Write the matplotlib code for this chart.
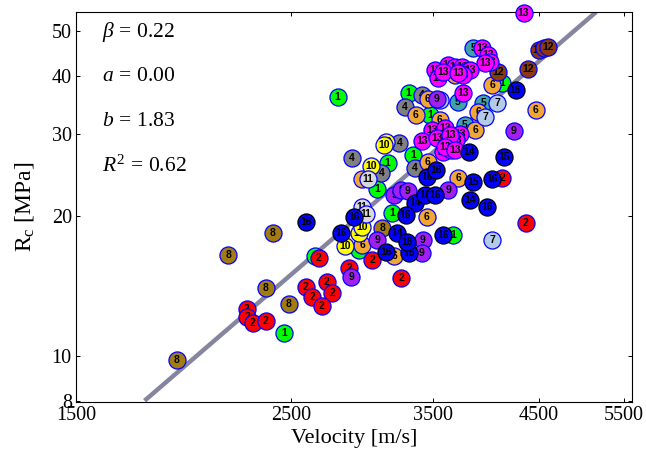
import matplotlib
matplotlib.use('Agg')
import matplotlib.pyplot as plt
from matplotlib.ticker import NullLocator

# ── data (Velocity [m/s], Rc [MPa]) per sample group ──
v01 = [2790, 2460, 2644, 3303, 3141, 3066, 3335, 3473, 3178, 2936, 3669, 4124]
r01 = [36.0, 11.2, 16.4, 36.8, 26.0, 22.9, 27.0, 33.0, 20.3, 16.9, 18.2, 38.6]
v02 = [2669, 2588, 2626, 2721, 2754, 2688, 2248, 2253, 2281, 2352, 2868, 3030, 3247, 4124, 4359]
r02 = [16.25, 14.07, 13.4, 14.42, 13.66, 12.8, 12.62, 12.13, 11.78, 11.9, 15.47, 16.09, 14.72, 24.1, 19.3]
v04 = [2888, 3095, 3231, 3271, 3407, 3351]
r04 = [26.7, 24.75, 28.7, 34.3, 36.4, 25.4]
v05 = [3942, 3713, 3849, 3775]
r05 = [35.0, 35.2, 46.0, 31.4]
v06 = [4028, 4464, 3358, 3456, 3456, 3713, 3449, 2958, 3193, 2958, 3895, 3867, 3556, 3687]
r06 = [38.2, 33.8, 33.0, 35.7, 26.1, 24.1, 19.9, 17.3, 16.4, 24.0, 33.5, 30.6, 32.2, 40.2]
v07 = [4075, 3961, 4028, 3556]
r07 = [35.0, 32.7, 17.77, 35.5]
v08 = [1905, 2153, 2392, 2352, 2486, 3102]
r08 = [9.8, 16.5, 18.4, 14.0, 12.9, 18.85]
v09 = [3531, 4236, 3193, 3247, 3295, 3626, 3066, 3415, 3407, 2881]
r09 = [35.7, 30.45, 22.2, 22.75, 22.6, 22.75, 17.77, 17.77, 16.65, 14.8]
v10 = [3133, 3118, 3022, 2936, 2958, 2840]
r10 = [28.8, 28.4, 25.6, 18.4, 18.95, 17.2]
v11 = [3001, 2958, 2987]
r11 = [24.0, 20.9, 20.2]
v12 = [4495, 4550, 4594, 4380, 4086]
r12 = [45.5, 46.0, 46.2, 41.4, 40.8]
v13 = [4338, 3932, 3990, 4009, 3961, 3515, 3540, 3626, 3687, 3748, 3775, 3820, 3757,
       3582, 3713, 3757, 3490, 3600, 3407, 3730, 3609, 3696, 3582, 3652,
       3531, 3643, 3600, 3687]
r13 = [54.7, 46.0, 44.4, 42.9, 42.7, 41.2, 39.6, 42.2, 41.8, 41.8, 40.8, 41.2, 40.2,
       40.8, 40.6, 36.8, 30.6, 30.9, 29.0, 30.1, 28.8, 29.1, 27.4, 27.7,
       29.4, 29.9, 28.1, 27.7]
v14 = [3811, 3351, 3820, 3216]
r14 = [27.4, 21.3, 21.65, 18.4]
v15 = [4144, 3849, 3303]
r15 = [26.8, 23.7, 16.65]
v16 = [4256, 2588, 2902, 2813, 3133, 3287, 3279, 3432, 3515, 3582, 3449, 3524, 4028, 3980]
r16 = [37.3, 19.4, 19.9, 18.4, 16.7, 17.6, 20.1, 22.2, 22.2, 18.2, 24.25, 25.1, 24.0, 20.9]

groups = [1, 2, 4, 5, 6, 7, 8, 9, 10, 11, 12, 13, 14, 15, 16]
vels = [v01, v02, v04, v05, v06, v07, v08, v09, v10, v11, v12, v13, v14, v15, v16]
rcs = [r01, r02, r04, r05, r06, r07, r08, r09, r10, r11, r12, r13, r14, r15, r16]

face = {1: '#00ff00', 2: '#ff0000', 4: '#808080', 5: '#3fa3a8', 6: '#f2a634',
        7: '#b3cbe8', 8: '#a27c12', 9: '#a020f0', 10: '#ffff00', 11: '#d9d9d9',
        12: '#8b3a0f', 13: '#ff00ff', 14: '#0000ff', 15: '#0000ff', 16: '#0000ff'}
edge = {g: ('#000000' if g >= 14 else '#0000ff') for g in groups}

# fitted power-law line, end points read where it meets the frame
fit_v = [1765, 5153]
fit_r = [8.0, 55.0]
fit_text = [r'$\beta\,=\,0.22$', r'$a\,=\,0.00$', r'$b\,=\,1.83$', r'$R^2\,=\,0.62$']

xticks = [1500, 2500, 3500, 4500, 5500]
yticks = [8, 10, 20, 30, 40, 50]

plt.rcParams['font.family'] = 'Liberation Serif'
plt.rcParams['mathtext.fontset'] = 'custom'
plt.rcParams['mathtext.rm'] = 'Liberation Serif'
plt.rcParams['mathtext.it'] = 'Liberation Serif:italic'

fig = plt.figure(figsize=(6.46, 4.57), dpi=100)
ax = fig.add_axes([0.1176, 0.1204, 0.8607, 0.8534])
ax.set_xscale('log')
ax.set_yscale('log')

ax.plot(fit_v, fit_r, color='#8585a0', lw=3.2, solid_capstyle='butt', zorder=1)

z = 2
for g, vv, rr in zip(groups, vels, rcs):
    for v, r in zip(vv, rr):
        ax.plot([v], [r], 'o', ms=12.3, mfc=face[g], mec=edge[g], mew=0.9,
                clip_on=False, zorder=z)
        ax.text(v, r, str(g), ha='center', va='center', fontsize=7.5,
                fontweight='bold', family='Liberation Sans', color='black',
                clip_on=False, zorder=z + 1)
        z += 2

ax.set_xlim(1500, 5610)
ax.set_ylim(7.95, 55)
ax.xaxis.set_minor_locator(NullLocator())
ax.yaxis.set_minor_locator(NullLocator())
ax.set_xticks(xticks)
ax.set_xticklabels([str(t) for t in xticks])
ax.set_yticks(yticks)
ax.set_yticklabels([str(t) for t in yticks])
ax.tick_params(direction='in', which='both', top=True, right=True,
               length=3, width=0.7, labelsize=14.5, pad=3)
for s in ax.spines.values():
    s.set_linewidth(0.8)

for i, t in enumerate(fit_text):
    ax.text(0.047, 0.949 - i * 0.115, t, transform=ax.transAxes,
            fontsize=15.5, ha='left', va='center', zorder=500)

ax.set_xlabel('Velocity [m/s]', fontsize=16, labelpad=3)
ax.set_ylabel(r'R$_\mathrm{c}$ [MPa]', fontsize=17, labelpad=11)

fig.savefig('out.png', dpi=100, facecolor='white')
